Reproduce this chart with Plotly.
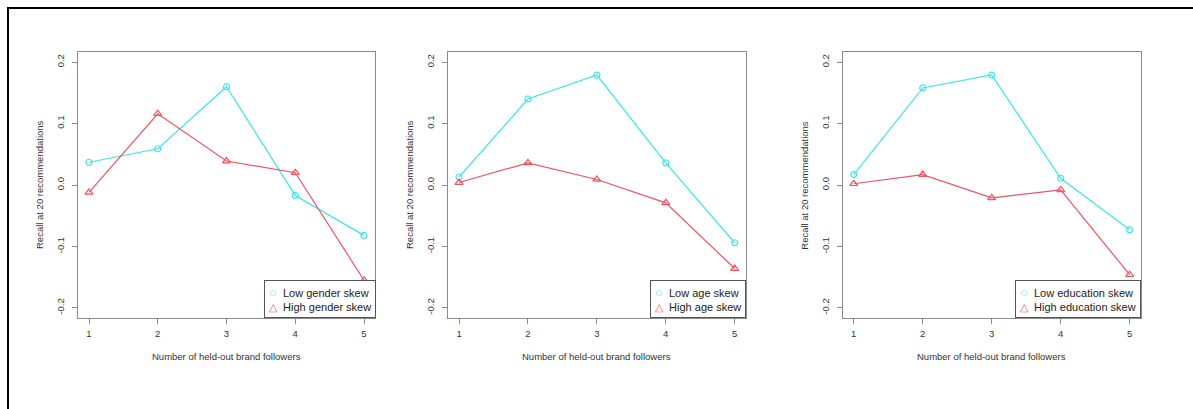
import plotly.graph_objects as go

W, H = 1193, 409

followers = [1, 2, 3, 4, 5]
x_ticks = [1, 2, 3, 4, 5]
y_ticks = [-0.2, -0.1, 0.0, 0.1, 0.2]
y_tick_labels = ["-0.2", "-0.1", "0.0", "0.1", "0.2"]

low_gender = [0.037, 0.059, 0.160, -0.017, -0.082]
high_gender = [-0.012, 0.116, 0.039, 0.020, -0.155]
low_age = [0.013, 0.140, 0.179, 0.036, -0.094]
high_age = [0.004, 0.036, 0.009, -0.029, -0.136]
low_edu = [0.017, 0.158, 0.179, 0.011, -0.073]
high_edu = [0.002, 0.017, -0.021, -0.008, -0.146]

panels = [
    ("Low gender skew", "High gender skew", low_gender, high_gender),
    ("Low age skew", "High age skew", low_age, high_age),
    ("Low education skew", "High education skew", low_edu, high_edu),
]

x_title = "Number of held-out brand followers"
y_title = "Recall at 20 recommendations"

CYAN = "#3FE4E6"
RED = "#EE5560"
AXIS = "#8a8a8a"
TXT = "#333333"
FONT = "Liberation Sans, Arial"

# panel pixel boxes (left, right)
boxes = [(78, 375), (448, 745.7), (842.7, 1140.7)]
top_px, bot_px = 52.3, 317.7
ydom = [1 - bot_px / H, 1 - top_px / H]

fig = go.Figure()
annotations = []
for i, (lo_name, hi_name, lo, hi) in enumerate(panels):
    n = i + 1
    xa = "x" if n == 1 else f"x{n}"
    ya = "y" if n == 1 else f"y{n}"
    fig.add_trace(go.Scatter(x=followers, y=lo, mode="lines+markers", name=lo_name,
                             line=dict(color=CYAN, width=1.2),
                             marker=dict(symbol="circle-open", size=6, color=CYAN, line=dict(width=1.2)),
                             xaxis=xa, yaxis=ya, showlegend=False))
    fig.add_trace(go.Scatter(x=followers, y=hi, mode="lines+markers", name=hi_name,
                             line=dict(color=RED, width=1.2),
                             marker=dict(symbol="triangle-up-open", size=7, color=RED, line=dict(width=1.2)),
                             xaxis=xa, yaxis=ya, showlegend=False))

    l, r = boxes[i]
    xdom = [l / W, r / W]
    axis_common = dict(showgrid=False, zeroline=False, showline=True, linecolor=AXIS,
                       linewidth=1, mirror=True, ticks="outside", ticklen=5,
                       tickcolor=AXIS, tickwidth=1, tickfont=dict(family=FONT, size=9.5, color=TXT))
    fig.layout[f"xaxis{'' if n == 1 else n}"] = dict(
        domain=xdom, range=[0.84, 5.16], tickvals=x_ticks, anchor=ya,
        ticklabelstandoff=2, **axis_common)
    fig.layout[f"yaxis{'' if n == 1 else n}"] = dict(
        domain=ydom, range=[-0.216, 0.216], tickvals=y_ticks, ticktext=y_tick_labels,
        tickangle=-90, anchor=xa, ticklabelstandoff=4, **axis_common)

    # R-style legend box (bottom-right corner of the panel)
    legend_text = (f"<span style='color:{CYAN};font-size:13px'>○</span>  {lo_name}<br>"
                   f"<span style='color:{RED};font-size:10.5px'>△</span>  {hi_name}")
    annotations.append(dict(text=legend_text, xref="paper", yref="paper",
                            x=(r + 0.5) / W, y=1 - (bot_px + 0.5) / H, xanchor="right", yanchor="bottom",
                            showarrow=False, align="left", bgcolor="white",
                            bordercolor="#555555", borderwidth=1, borderpad=4,
                            font=dict(family=FONT, size=11, color="#222222")))
    # axis titles
    annotations.append(dict(text=x_title, xref="paper", yref="paper",
                            x=((l + r) / 2) / W, y=1 - 356 / H, showarrow=False,
                            xanchor="center", yanchor="middle",
                            font=dict(family=FONT, size=9.5, color=TXT)))
    annotations.append(dict(text=y_title, xref="paper", yref="paper",
                            x=(l - 38) / W, y=1 - ((top_px + bot_px) / 2) / H, showarrow=False,
                            textangle=-90, xanchor="center", yanchor="middle",
                            font=dict(family=FONT, size=9.5, color=TXT)))

# outer black frame (cropped on right/bottom as in the image)
shapes = [
    dict(type="line", xref="paper", yref="paper", x0=7 / W, x1=1.0, y0=1 - 8 / H, y1=1 - 8 / H,
         line=dict(color="black", width=2)),
    dict(type="line", xref="paper", yref="paper", x0=8 / W, x1=8 / W, y0=0, y1=1 - 7 / H,
         line=dict(color="black", width=2)),
]

fig.update_layout(width=W, height=H, margin=dict(l=0, r=0, t=0, b=0),
                  paper_bgcolor="white", plot_bgcolor="white",
                  annotations=annotations, shapes=shapes, showlegend=False,
                  font=dict(family=FONT))

fig.write_html("out.html", config={"displayModeBar": False},
               post_script="document.body.style.margin='0px';document.body.style.overflow='hidden';")
